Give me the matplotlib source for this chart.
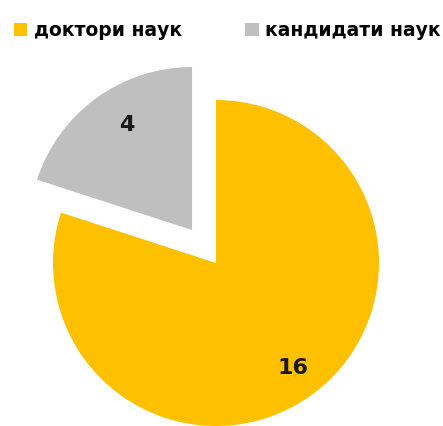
import matplotlib
matplotlib.use("Agg")
import matplotlib.pyplot as plt

labels = ["доктори наук", "кандидати наук"]
values = [16, 4]
colors = ["#FFC000", "#BFBFBF"]
explode = [0, 0.25]

plt.rcParams['font.family'] = ['DejaVu Sans']

fig = plt.figure(figsize=(4.43, 4.26), dpi=100)
ax = fig.add_axes([0, 0, 1, 1])

wedges, texts = ax.pie(values, colors=colors, explode=explode, startangle=90,
                       counterclock=False, labels=[str(v) for v in values],
                       labeldistance=0.8,
                       textprops=dict(fontsize=16, fontweight='bold', color='#1a1a1a'),
                       wedgeprops=dict(linewidth=0))
for t in texts:
    t.set_horizontalalignment('center')
    t.set_verticalalignment('center')
# nudge the small-slice label a bit to the right like the original
x, y = texts[1].get_position()
texts[1].set_position((x + 0.07, y))

ax.set_aspect('auto')
ax.set_xlim(-216 / 163, (443 - 216) / 163)
ax.set_ylim(-1.0, (426 - 163) / 163)
ax.axis('off')

leg = ax.legend(wedges, labels, ncol=2, loc='upper left',
                bbox_to_anchor=(0.008, 0.975), frameon=False,
                prop=dict(size=13.5, weight='bold'),
                handlelength=0.7, handleheight=0.7, handletextpad=0.35,
                columnspacing=3.4, borderaxespad=0.15)

fig.savefig("out.png", dpi=100)
